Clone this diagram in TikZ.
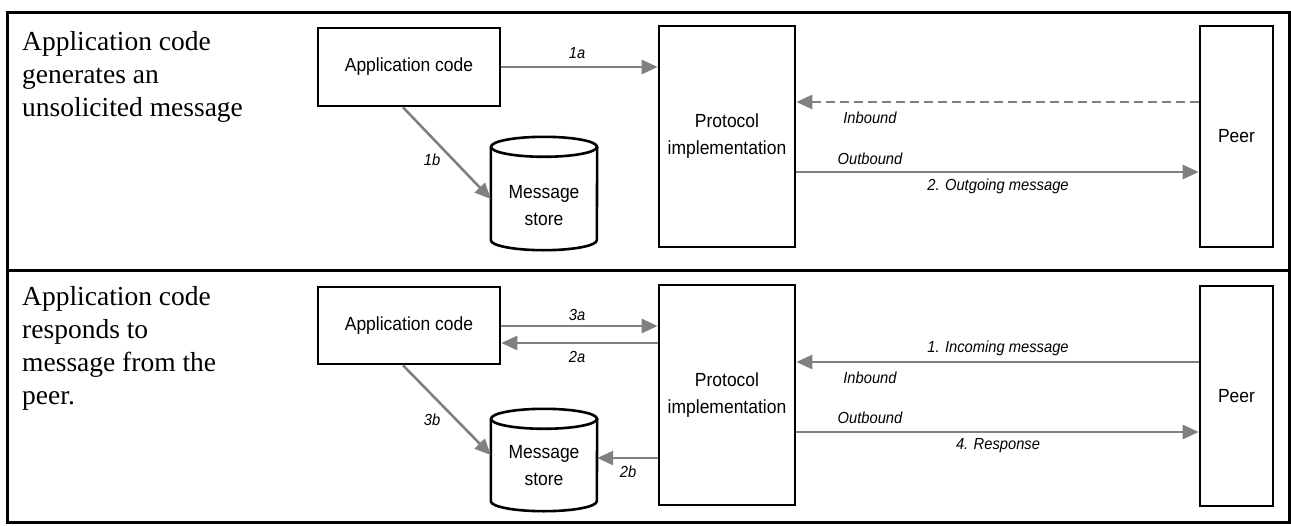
\documentclass[tikz,border=0pt]{standalone}
\usepackage{fontspec}
\setsansfont{Liberation Sans}[FakeStretch=0.92]
\newfontfamily\descfont{Liberation Serif}
\usetikzlibrary{arrows.meta}
\definecolor{arrgray}{RGB}{128,128,128}
\begin{document}
\begin{tikzpicture}[x=1pt,y=1pt,
  box/.style={draw=black, line width=2.6pt, inner sep=0pt, align=center,
    font=\sffamily\fontsize{19}{27}\selectfont},
  cylhold/.style={inner sep=0pt, minimum width=106pt},
  cyl/.style={draw=black, line width=2.6pt},
  stxt/.style={align=center, inner sep=0pt, font=\sffamily\fontsize{19}{27}\selectfont},
  arr/.style={draw=arrgray, line width=2.6pt, -{Triangle[length=16pt,width=14pt]}},
  dasharr/.style={arr, dash pattern=on 9pt off 5pt},
  lbl/.style={font=\sffamily\itshape\fontsize{16}{19}\selectfont, inner sep=0pt},
  desc/.style={font=\descfont\fontsize{27.5}{32}\selectfont, anchor=base west, inner sep=0pt},
  frame/.style={draw=black, line width=3pt}]
\useasboundingbox (0,0) rectangle (1291,-525);
% frame
\draw[frame] (7,-12) rectangle (1289,-522);
\draw[frame] (7,-270) -- (1289,-270);

% ---------- top panel ----------
\node[desc] (d1a) at (22,-50) {Application code};
\node[desc] (d1b) at (22,-83) {generates an};
\node[desc] (d1c) at (22,-116) {unsolicited message};

\node[box, minimum width=182pt, minimum height=78pt] (app1) at (409,-67) {Application code};
\node[box, minimum width=136pt, minimum height=221pt] (proto1) at (727,-136.5) {Protocol\\implementation};
\node[box, minimum width=73pt, minimum height=221pt] (peer1) at (1236.5,-136.5) {Peer};

\node[cylhold, minimum height=113pt] (store1) at (544,-193.5) {};
\draw[cyl] ([yshift=-10pt]store1.north west) -- ([yshift=10pt]store1.south west)
  arc[start angle=180, end angle=360, x radius=53pt, y radius=10pt]
  -- ([yshift=-10pt]store1.north east);
\draw[cyl] ([yshift=-10pt]store1.north) ellipse [x radius=53pt, y radius=10pt];
\node[stxt] (s1t) at (544,-206) {Message\\store};

\draw[arr] (app1.east) -- (proto1.west |- app1.east);
\node[lbl] (l1a) at (577,-53) {1a};
\draw[arr] ([xshift=-6pt]app1.south) -- (store1.west |- 0,-199);
\node[lbl] (l1b) at (432,-160) {1b};
\draw[dasharr] (peer1.west |- 0,-102) -- (proto1.east |- 0,-102);
\node[lbl] (li1) at (870,-118) {Inbound};
\draw[arr] (proto1.east |- 0,-172) -- (peer1.west |- 0,-172);
\node[lbl] (lo1) at (870,-159) {Outbound};
\node[lbl] (lm2) at (998,-186) {2. Outgoing message};

% ---------- bottom panel ----------
\node[desc] (d2a) at (22,-305) {Application code};
\node[desc] (d2b) at (22,-338) {responds to};
\node[desc] (d2c) at (22,-371) {message from the};
\node[desc] (d2d) at (22,-404) {peer.};

\node[box, minimum width=182pt, minimum height=77pt] (app2) at (409,-325.5) {Application code};
\node[box, minimum width=136pt, minimum height=220pt] (proto2) at (727,-395) {Protocol\\implementation};
\node[box, minimum width=73pt, minimum height=220pt] (peer2) at (1236.5,-396) {Peer};

\node[cylhold, minimum height=102pt] (store2) at (544,-460) {};
\draw[cyl] ([yshift=-10pt]store2.north west) -- ([yshift=10pt]store2.south west)
  arc[start angle=180, end angle=360, x radius=53pt, y radius=10pt]
  -- ([yshift=-10pt]store2.north east);
\draw[cyl] ([yshift=-10pt]store2.north) ellipse [x radius=53pt, y radius=10pt];
\node[stxt] (s2t) at (544,-466) {Message\\store};

\draw[arr] (app2.east |- 0,-326) -- (proto2.west |- 0,-326);
\node[lbl] (l3a) at (577,-315) {3a};
\draw[arr] (proto2.west |- 0,-343) -- (app2.east |- 0,-343);
\node[lbl] (l2a) at (577,-357) {2a};
\draw[arr] ([xshift=-6pt]app2.south) -- (store2.west |- 0,-455);
\node[lbl] (l3b) at (432,-420) {3b};
\draw[arr] (proto2.west |- 0,-458) -- (store2.east |- 0,-458);
\node[lbl] (l2b) at (628,-472) {2b};
\draw[arr] (peer2.west |- 0,-362) -- (proto2.east |- 0,-362);
\node[lbl] (lm1) at (998,-348) {1. Incoming message};
\node[lbl] (li2) at (870,-378) {Inbound};
\draw[arr] (proto2.east |- 0,-432) -- (peer2.west |- 0,-432);
\node[lbl] (lo2) at (870,-418) {Outbound};
\node[lbl] (lm4) at (998,-446) {4. Response};
\end{tikzpicture}
\end{document}
